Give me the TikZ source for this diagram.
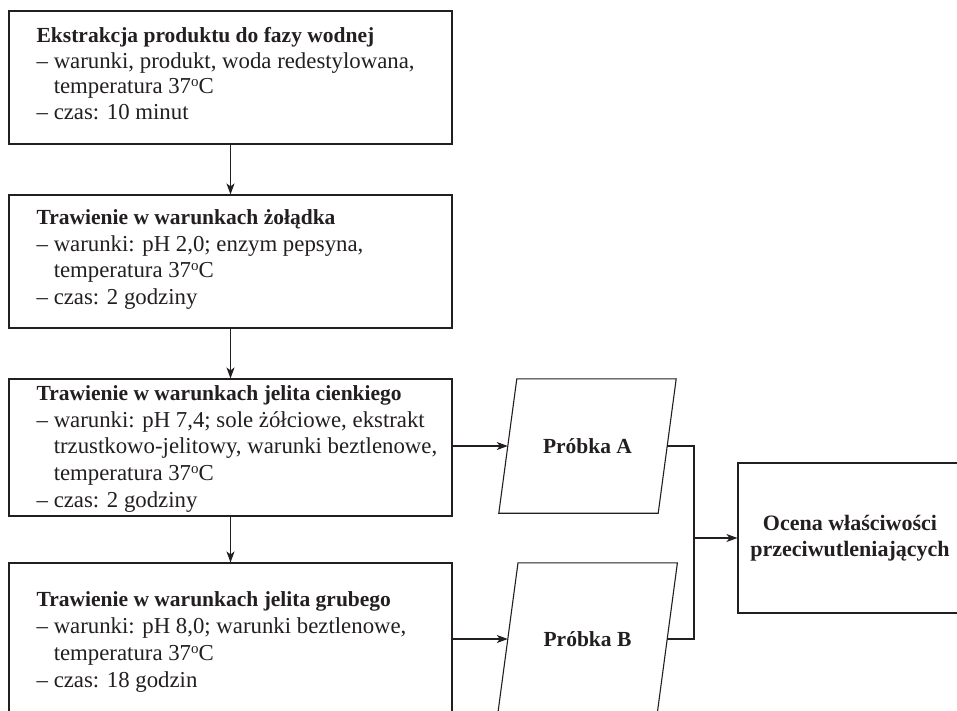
\documentclass[tikz,border=0pt]{standalone}
\usepackage{fontspec}
\setmainfont{Liberation Serif}
\usetikzlibrary{arrows.meta}
\definecolor{ink}{HTML}{231F20}
\begin{document}
\begin{tikzpicture}[x=1pt,y=1pt,
  every node/.style={text=ink},
  procbox/.style={draw=ink, line width=1.1pt, rectangle, minimum width=443pt, inner sep=0pt},
  boxtext/.style={align=left, inner sep=0pt, anchor=west, font=\fontsize{22.8}{26.8}\selectfont},
  sample/.style={rectangle, inner sep=0pt, font=\fontsize{21.5}{26}\selectfont\bfseries},
  outline/.style={draw=ink, line width=1.1pt, line join=miter},
  resbox/.style={draw=ink, line width=1.1pt, rectangle, minimum width=224pt, minimum height=150pt, align=center,
     inner sep=0pt, font=\fontsize{22}{26}\selectfont\bfseries},
  arr/.style={draw=ink, line width=1.1pt, -{Stealth[length=11pt,width=8pt,inset=3pt]}},
  conn/.style={draw=ink, line width=1.1pt}
]
\useasboundingbox (0,0) rectangle (957,-711);
\fill[white] (0,0) rectangle (957,-711);
\clip (0,0) rectangle (957,-711);
\newcommand{\ind}{\phantom{– }}
\newcommand{\hd}[1]{{\fontsize{21.5}{26.8}\selectfont\bfseries #1}}
\newcommand{\dg}{\raisebox{7pt}{\fontsize{15}{15}\selectfont o}}
% process boxes
\node[procbox, minimum height=133pt] (b1) at (230.5,-77.5) {};
\node[boxtext, font=\fontsize{22.8}{25.6}\selectfont] (t1) at ([xshift=28pt,yshift=4pt]b1.west) {\hd{Ekstrakcja produktu do fazy wodnej}\\
– warunki, produkt, woda redestylowana,\\
\ind temperatura 37\dg C\\
– czas: 10 minut};
\node[procbox, minimum height=133pt] (b2) at (230.5,-261.5) {};
\node[boxtext] (t2) at ([xshift=28pt,yshift=2pt]b2.west) {\hd{Trawienie w warunkach żołądka}\\
– warunki: pH 2,0; enzym pepsyna,\\
\ind temperatura 37\dg C\\
– czas: 2 godziny};
\node[procbox, minimum height=137pt] (b3) at (230.5,-447.5) {};
\node[boxtext] (t3) at ([xshift=28pt,yshift=-1.3pt]b3.west) {\hd{Trawienie w warunkach jelita cienkiego}\\
– warunki: pH 7,4; sole żółciowe, ekstrakt\\
\ind trzustkowo-jelitowy, warunki beztlenowe,\\
\ind temperatura 37\dg C\\
– czas: 2 godziny};
\node[procbox, minimum height=156pt] (b4) at (230.5,-641) {};
\node[boxtext] (t4) at ([xshift=28pt,yshift=-0.8pt]b4.west) {\hd{Trawienie w warunkach jelita grubego}\\
– warunki: pH 8,0; warunki beztlenowe,\\
\ind temperatura 37\dg C\\
– czas: 18 godzin};
% samples (parallelograms)
\node[sample, minimum width=159pt, minimum height=134pt] (A) at (587.5,-446) {Próbka A};
\draw[outline] ([xshift=9pt]A.north west) -- ([xshift=9pt]A.north east) -- ([xshift=-9pt]A.south east) -- ([xshift=-9pt]A.south west) -- cycle;
\node[sample, minimum width=159pt, minimum height=152pt] (B) at (587.5,-639) {Próbka B};
\draw[outline] ([xshift=10.2pt]B.north west) -- ([xshift=10.2pt]B.north east) -- ([xshift=-10.2pt]B.south east) -- ([xshift=-10.2pt]B.south west) -- cycle;
% result
\node[resbox] (C) at (850,-538) {Ocena właściwości\\przeciwutleniających};
% connectors
\draw[arr] (b1.south) -- (b2.north);
\draw[arr] (b2.south) -- (b3.north);
\draw[arr] (b3.south) -- (b4.north);
\draw[arr] (b3.east |- A.west) -- (A.west);
\draw[arr] (b4.east |- B.west) -- (B.west);
\coordinate (j) at (694,-538);
\draw[conn] (A.east) -| (j) |- (B.east);
\draw[arr] (j) -- (C.west);
\end{tikzpicture}
\end{document}
